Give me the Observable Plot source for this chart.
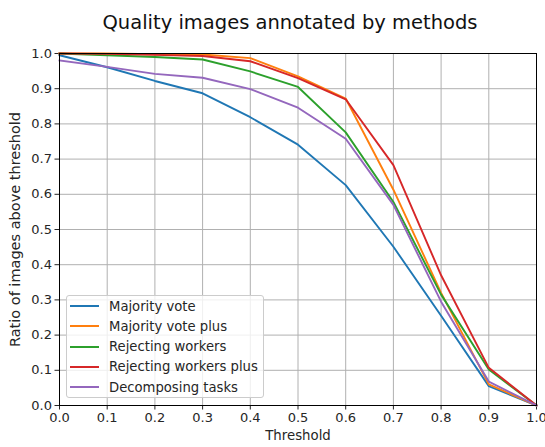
<!DOCTYPE html>
<html>
<head>
<meta charset="utf-8">
<script src="https://cdn.jsdelivr.net/npm/d3@7"></script>
<script src="https://cdn.jsdelivr.net/npm/@observablehq/plot@0.6"></script>
<style>
  html, body { margin: 0; padding: 0; background: #fff; }
  #wrap { position: relative; width: 545px; height: 447px; font-family: "DejaVu Sans", sans-serif; }
  #legend { position: absolute; left: 66px; top: 295px; width: 198px; height: 103px; box-sizing: border-box;
    background: rgba(255,255,255,0.8); border: 1px solid #cccccc; border-radius: 3px; }
  .row { position: absolute; left: 0; height: 20px; display: flex; align-items: center; }
  .row svg { margin-left: 3px; }
  .row span { margin-left: 10px; font-size: 13.2px; color: #262626; white-space: nowrap; }
</style>
</head>
<body>
<div id="wrap"><div id="legend"></div></div>
<script>
const title = "Quality images annotated by methods";
const xLabel = "Threshold";
const yLabel = "Ratio of images above threshold";
const thresholds = [0.0, 0.1, 0.2, 0.3, 0.4, 0.5, 0.6, 0.7, 0.8, 0.9, 1.0];
const xTicks = [0.0, 0.1, 0.2, 0.3, 0.4, 0.5, 0.6, 0.7, 0.8, 0.9, 1.0];
const yTicks = [0.0, 0.1, 0.2, 0.3, 0.4, 0.5, 0.6, 0.7, 0.8, 0.9, 1.0];
const seriesNames = ["Majority vote", "Majority vote plus", "Rejecting workers", "Rejecting workers plus", "Decomposing tasks"];
const seriesColors = ["#1f77b4", "#ff7f0e", "#2ca02c", "#d62728", "#9467bd"];
const majorityVote        = [0.995, 0.961, 0.922, 0.887, 0.819, 0.741, 0.626, 0.451, 0.255, 0.055, 0.0];
const majorityVotePlus    = [1.000, 1.000, 0.998, 0.997, 0.987, 0.935, 0.872, 0.613, 0.320, 0.060, 0.0];
const rejectingWorkers    = [1.000, 0.995, 0.990, 0.983, 0.949, 0.905, 0.776, 0.578, 0.315, 0.102, 0.0];
const rejectingWorkersPlus= [1.000, 0.999, 0.996, 0.993, 0.978, 0.930, 0.870, 0.683, 0.370, 0.107, 0.0];
const decomposingTasks    = [0.980, 0.962, 0.942, 0.931, 0.899, 0.846, 0.758, 0.570, 0.295, 0.068, 0.0];
const seriesValues = [majorityVote, majorityVotePlus, rejectingWorkers, rejectingWorkersPlus, decomposingTasks];

const rows = [];
seriesNames.forEach((name, i) => {
  thresholds.forEach((t, j) => rows.push({series: name, x: t, y: seriesValues[i][j]}));
});

const fmt = d3.format(".1f");
const plot = Plot.plot({
  width: 545,
  height: 447,
  marginLeft: 59,
  marginRight: 9,
  marginTop: 53,
  marginBottom: 42,
  style: {fontFamily: "DejaVu Sans, sans-serif", background: "white", color: "#262626"},
  x: {domain: [0, 1], label: null},
  y: {domain: [0, 1], label: null},
  color: {domain: seriesNames, range: seriesColors},
  marks: [
    Plot.gridX(xTicks, {stroke: "#b0b0b0", strokeOpacity: 1, strokeWidth: 1}),
    Plot.gridY(yTicks, {stroke: "#b0b0b0", strokeOpacity: 1, strokeWidth: 1}),
    Plot.axisX(xTicks, {tickFormat: fmt, tickSize: 4.5, tickPadding: 3, fontSize: 13, label: null, stroke: "#262626"}),
    Plot.axisY(yTicks, {tickFormat: fmt, tickSize: 4.5, tickPadding: 3, fontSize: 13, label: null, stroke: "#262626"}),
    Plot.line(rows, {x: "x", y: "y", z: "series", stroke: "series", strokeWidth: 1.9, strokeLinejoin: "round", strokeLinecap: "square"}),
    Plot.frame({stroke: "black", strokeWidth: 1}),
    Plot.text([title], {text: d => d, frameAnchor: "top", dy: -38, dx: -8, fontSize: 19.5, fill: "#111"}),
    Plot.text([xLabel], {text: d => d, frameAnchor: "bottom", dy: 34, fontSize: 13.3, fill: "#262626"}),
    Plot.text([yLabel], {text: d => d, frameAnchor: "left", textAnchor: "middle", dx: -44, rotate: -90, fontSize: 14.5, fill: "#262626"})
  ]
});
const wrap = document.getElementById("wrap");
wrap.insertBefore(plot, wrap.firstChild);

const legend = document.getElementById("legend");
seriesNames.forEach((name, i) => {
  const row = document.createElement("div");
  row.className = "row";
  row.style.top = (i * 20.3) + "px";
  row.innerHTML = `<svg width="29" height="4"><line x1="0" x2="29" y1="2" y2="2" stroke="${seriesColors[i]}" stroke-width="2"/></svg><span>${name}</span>`;
  legend.appendChild(row);
});
</script>
</body>
</html>
